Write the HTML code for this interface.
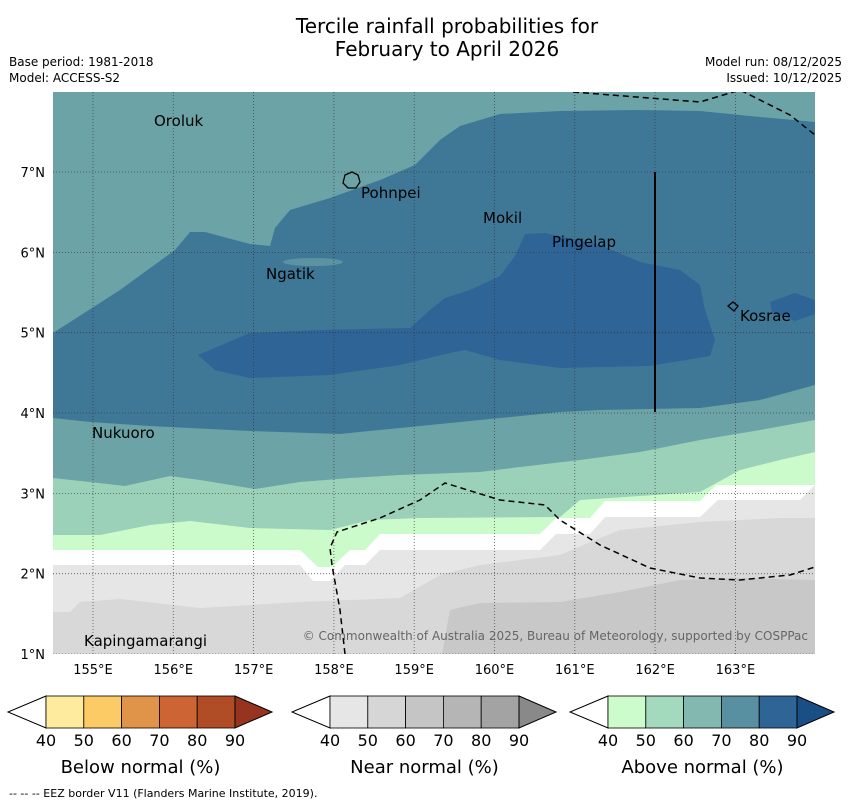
<!DOCTYPE html>
<html><head><meta charset="utf-8">
<style>
body{margin:0;background:#fff;width:850px;height:804px;overflow:hidden;font-family:"Liberation Sans","DejaVu Sans",sans-serif}
svg text{font-family:"DejaVu Sans","Liberation Sans",sans-serif}
</style></head>
<body>
<svg id="chart" width="850" height="804" viewBox="0 0 850 804" xmlns="http://www.w3.org/2000/svg">
<text x="447" y="33" text-anchor="middle" font-size="20">Tercile rainfall probabilities for</text>
<text x="447" y="56" text-anchor="middle" font-size="20">February to April 2026</text>
<text x="9" y="66" font-size="12">Base period: 1981-2018</text>
<text x="9" y="82" font-size="12">Model: ACCESS-S2</text>
<text x="842" y="66" font-size="12" text-anchor="end">Model run: 08/12/2025</text>
<text x="842" y="82" font-size="12" text-anchor="end">Issued: 10/12/2025</text>
<defs><clipPath id="mc"><rect x="53" y="92" width="762" height="562"/></clipPath></defs>
<g id="map" clip-path="url(#mc)">
<rect x="53" y="92" width="762" height="562" fill="#6ca3a6"/>
<path fill="#3f7897" d="M53,333 L120,290 L175,250 L190,232 L205,232 L250,244 L270,246 L275,228 L290,210 L330,198 L380,180 L415,165 L440,140 L460,126 L500,114 L560,111 L640,110 L700,111 L760,117 L815,122 L815,385 L760,400 L700,408 L600,410 L560,412 L480,420 L400,428 L340,434 L250,431 L150,426 L90,422 L53,418 Z"/>
<ellipse cx="313" cy="262" rx="30" ry="4" fill="#5b93a2"/>
<path fill="#2f6496" d="M198,355 L250,333 L320,330 L410,328 L430,310 L445,298 L470,290 L500,276 L515,256 L525,234 L545,233 L600,245 L640,262 L680,270 L700,285 L705,310 L715,340 L710,356 L650,366 L560,368 L500,360 L465,350 L450,353 L400,365 L330,375 L250,378 L215,370 Z"/>
<path fill="#2f6496" d="M770,302 L795,293 L815,300 L815,314 L795,321 L772,312 Z"/>
<path fill="#9bd0b9" d="M53,478 L90,482 L125,486 L170,476 L200,480 L255,489 L300,482 L350,478 L400,475 L480,472 L520,467 L580,460 L640,452 L700,440 L760,430 L815,420 L815,654 L53,654 Z"/>
<path fill="#ccfbcb" d="M53,535 L100,535 L150,525 L190,521 L250,528 L330,530 L370,520 L420,518 L560,517 L580,500 L640,496 L700,492 L740,470 L780,460 L815,452 L815,654 L53,654 Z"/>
<path fill="#ffffff" d="M53,550 L300,550 L318,567 L332,567 L350,550 L365,550 L380,534 L540,534 L556,518 L590,518 L605,501 L700,501 L716,485 L815,485 L815,654 L53,654 Z"/>
<path fill="#e6e6e6" d="M53,565 L300,565 L313,581 L330,581 L345,565 L365,565 L380,550 L540,550 L556,534 L590,534 L605,517 L700,517 L718,500 L800,500 L815,485 L815,654 L53,654 Z"/>
<path fill="#d8d8d8" d="M53,612 L70,612 L80,602 L120,599 L200,608 L300,602 L400,598 L440,575 L480,565 L560,555 L600,538 L620,530 L700,522 L780,518 L815,518 L815,654 L53,654 Z"/>
<path fill="#c8c8c8" d="M442,654 L450,610 L480,603 L560,602 L620,592 L680,580 L740,578 L815,580 L815,654 Z"/>
<g id="grid" stroke="#333" stroke-width="0.8" stroke-dasharray="1,2" opacity="0.8"></g>
<path fill="none" stroke="#000" stroke-width="1.5" stroke-dasharray="6,4" d="M345,654 L340,610 L332,565 L330,548 L337,532 L380,518 L420,500 L445,483 L500,500 L545,505 L560,520 L600,545 L650,568 L700,578 L740,580 L790,575 L815,567"/>
<path fill="none" stroke="#000" stroke-width="1.5" stroke-dasharray="6,4" d="M573,92 L700,102 L740,90 L790,115 L815,135"/>
<line x1="655" y1="172" x2="655" y2="412" stroke="#000" stroke-width="2"/>
<path fill="none" stroke="#000" stroke-width="1.3" d="M345,175 L352,172 L358,175 L360,182 L356,188 L348,188 L343,183 Z"/>
<path fill="none" stroke="#000" stroke-width="1.3" d="M728,306 L733,302 L738,306 L734,311 Z"/>
<g font-size="15" fill="#000">
<text x="154" y="126">Oroluk</text>
<text x="361" y="198">Pohnpei</text>
<text x="483" y="223">Mokil</text>
<text x="552" y="247">Pingelap</text>
<text x="266" y="279">Ngatik</text>
<text x="740" y="321">Kosrae</text>
<text x="92" y="438">Nukuoro</text>
<text x="84" y="646">Kapingamarangi</text>
</g>
<text x="808" y="640" font-size="12" text-anchor="end" fill="#666">© Commonwealth of Australia 2025, Bureau of Meteorology, supported by COSPPac</text>
</g>
<g id="axes" font-size="13"></g>
<g id="cbars"></g>
<text x="9" y="797" font-size="11">--  --  -- EEZ border V11 (Flanders Marine Institute, 2019).</text>
</svg>
<script>
const lonTicks=[155,156,157,158,159,160,161,162,163];
const latTicks=[1,2,3,4,5,6,7];
const cbLevels=[40,50,60,70,80,90];
const cbTitles=["Below normal (%)","Near normal (%)","Above normal (%)"];
const cbColors=[["#feeb9e","#fdcb66","#e0944a","#cd6434","#b04c26","#96341f"],["#e6e6e6","#d6d6d6","#c5c5c5","#b5b5b5","#a3a3a3","#898989"],["#ccfccb","#a3dabd","#82b8b0","#5990a1","#2e6496","#1a4f85"]];
const NS="http://www.w3.org/2000/svg";
const xS=lon=>93+(lon-155)*80.3;
const yS=lat=>654-(lat-1)*80.33;
function mk(t,a,p){const e=document.createElementNS(NS,t);for(const k in a)e.setAttribute(k,a[k]);p.appendChild(e);return e;}
const grid=document.getElementById('grid'),axes=document.getElementById('axes'),cb=document.getElementById('cbars');
lonTicks.forEach(l=>{const x=xS(l);
 const g=mk('line',{x1:x,y1:92,x2:x,y2:654},grid);
 
 
 const t=mk('text',{x:x,y:674,'text-anchor':'middle'},axes);t.textContent=l+'°E';
 
 });
latTicks.forEach(l=>{const y=yS(l);
 const g=mk('line',{x1:53,y1:y,x2:815,y2:y},grid);
 
 
 const t=mk('text',{x:45,y:y+5,'text-anchor':'end'},axes);t.textContent=l+'°N';
 
 });
const starts=[46,330,608],bw=37.8,cbTop=696,bh=32;
starts.forEach((x0,i)=>{
 const tri=mk('path',{d:`M${x0},${cbTop} L${x0-38},${cbTop+bh/2} L${x0},${cbTop+bh} Z`,fill:'#fff',stroke:'#000','stroke-width':1},cb);
 
 
 for(let j=0;j<5;j++){const r=mk('rect',{x:x0+j*bw,y:cbTop,width:bw,height:bh,fill:cbColors[i][j],stroke:'#000','stroke-width':0.8},cb);
  
  }
 const xe=x0+5*bw;
 const tr=mk('path',{d:`M${xe},${cbTop} L${xe+37},${cbTop+bh/2} L${xe},${cbTop+bh} Z`,fill:cbColors[i][5],stroke:'#000','stroke-width':1},cb);
 
 
 cbLevels.forEach((v,j)=>{const t=mk('text',{x:x0+j*bw,y:746,'text-anchor':'middle','font-size':16},cb);t.textContent=v;
  
  });
 const tt=mk('text',{x:x0+2.5*bw,y:773,'text-anchor':'middle','font-size':18},cb);tt.textContent=cbTitles[i];
 
 
});
</script>
</body></html>
